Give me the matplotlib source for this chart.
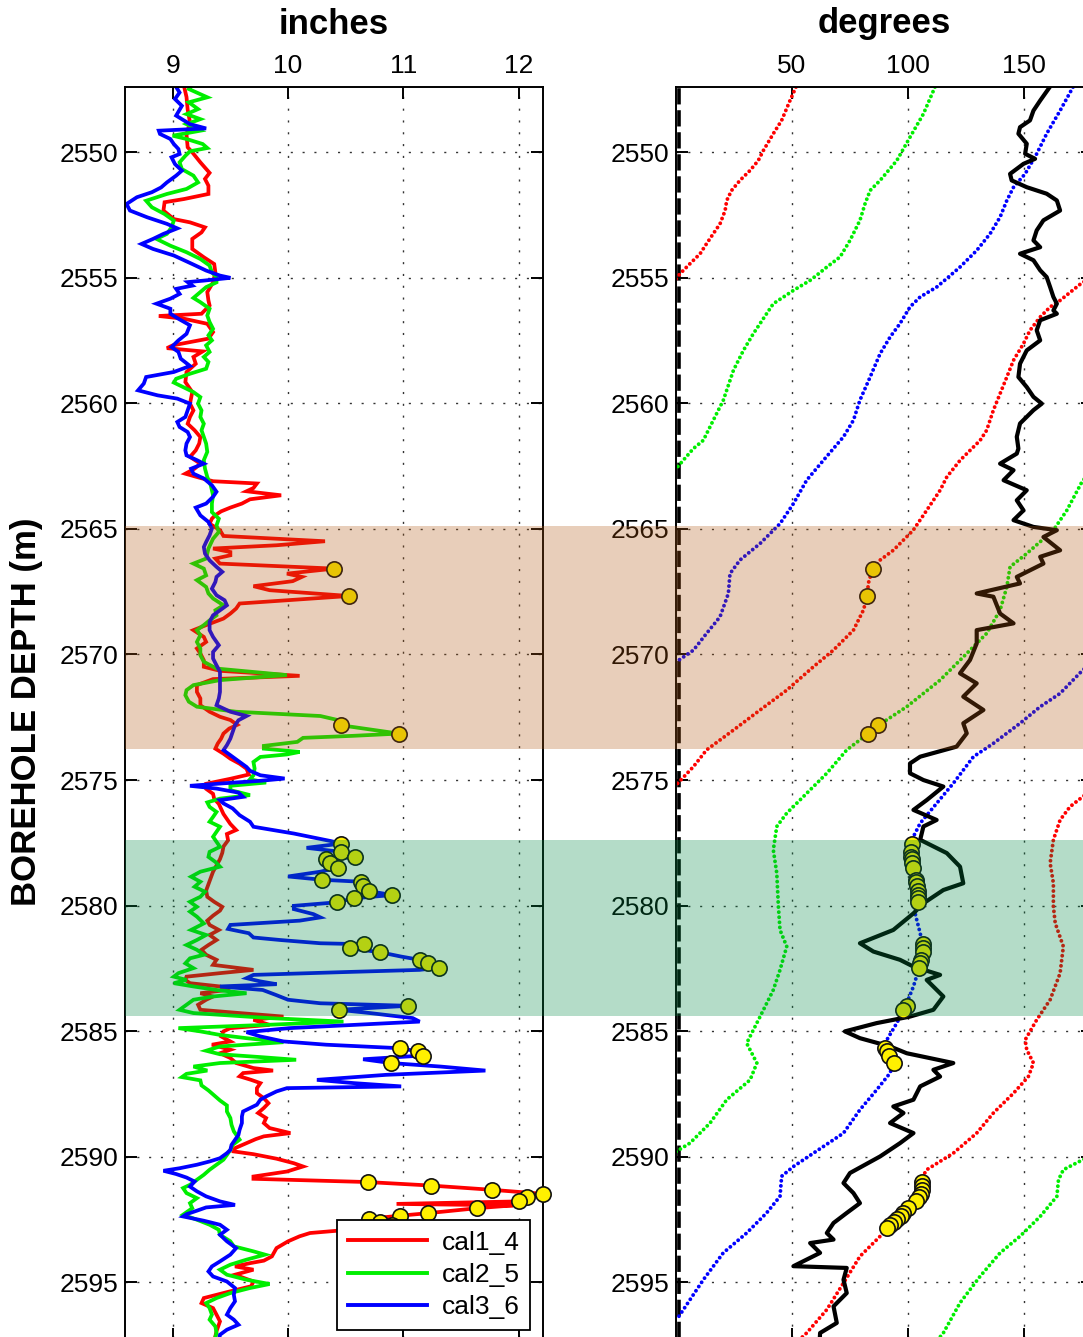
import numpy as np
import matplotlib
matplotlib.use("Agg")
import matplotlib.pyplot as plt
import matplotlib.transforms as mtransforms
from matplotlib.patches import Rectangle
from matplotlib.lines import Line2D

plt.rcParams['font.family'] = ['Liberation Sans', 'DejaVu Sans']

# ---------------- LEFT PANEL: calipers (depth m, inches) ----------------
cal1_4 = [
    (2547.40, 9.10), (2547.80, 9.12), (2548.30, 9.13), (2548.80, 9.15), (2549.30, 9.12), (2549.80, 9.13),
    (2550.00, 9.17), (2550.40, 9.24), (2550.82, 9.32), (2551.06, 9.28), (2551.33, 9.31), (2551.66, 9.31),
    (2551.86, 9.10), (2551.99, 8.93), (2552.32, 8.92), (2552.66, 9.01), (2552.79, 9.15), (2552.99, 9.28),
    (2553.19, 9.25), (2553.45, 9.17), (2553.85, 9.17), (2554.18, 9.27), (2554.45, 9.36), (2554.78, 9.37),
    (2555.18, 9.35), (2555.57, 9.30), (2555.90, 9.31), (2556.10, 9.32), (2556.43, 9.25), (2556.52, 8.88),
    (2556.63, 9.10), (2556.83, 9.30), (2557.16, 9.35), (2557.42, 9.31), (2557.69, 9.00), (2557.80, 8.95),
    (2557.93, 9.26), (2558.15, 9.18), (2558.42, 9.20), (2558.75, 9.12), (2559.15, 9.11), (2559.55, 9.17),
    (2560.01, 9.15), (2560.28, 9.18), (2560.54, 9.15), (2560.81, 9.13), (2561.07, 9.19), (2561.34, 9.24),
    (2561.60, 9.23), (2561.87, 9.20), (2562.13, 9.15), (2562.40, 9.24), (2562.60, 9.19), (2562.80, 9.11),
    (2562.97, 9.24), (2563.10, 9.35), (2563.19, 9.73), (2563.37, 9.70), (2563.50, 9.64), (2563.66, 9.94),
    (2563.82, 9.67), (2563.99, 9.60), (2564.15, 9.50), (2564.30, 9.42), (2564.45, 9.37), (2564.59, 9.34),
    (2564.79, 9.32), (2565.05, 9.41), (2565.28, 9.44), (2565.49, 10.32), (2565.65, 9.90), (2565.78, 9.35),
    (2565.92, 9.50), (2566.05, 9.50), (2566.18, 9.37), (2566.38, 9.41), (2566.58, 10.40), (2566.78, 9.99),
    (2566.91, 10.12), (2567.08, 10.04), (2567.28, 9.70), (2567.44, 9.84), (2567.67, 10.53), (2567.84, 9.99),
    (2567.97, 9.58), (2568.17, 9.55), (2568.37, 9.50), (2568.57, 9.44), (2568.83, 9.29), (2569.03, 9.18),
    (2569.30, 9.27), (2569.50, 9.29), (2569.76, 9.21), (2569.96, 9.24), (2570.23, 9.27), (2570.49, 9.27),
    (2570.65, 9.41), (2570.85, 10.10), (2570.98, 9.35), (2571.22, 9.21), (2571.49, 9.21), (2571.75, 9.24),
    (2572.02, 9.24), (2572.28, 9.32), (2572.48, 9.41), (2572.61, 9.50), (2572.80, 9.56), (2572.95, 9.49),
    (2573.15, 9.44), (2573.35, 9.42), (2573.55, 9.39), (2573.75, 9.37), (2573.95, 9.44), (2574.15, 9.50),
    (2574.35, 9.58), (2574.55, 9.64), (2574.78, 9.66), (2574.95, 9.50), (2575.15, 9.29), (2575.35, 9.29),
    (2575.55, 9.35), (2575.75, 9.36), (2575.95, 9.40), (2576.15, 9.42), (2576.35, 9.44), (2576.55, 9.47),
    (2576.75, 9.50), (2576.99, 9.55), (2577.15, 9.47), (2577.40, 9.48), (2577.65, 9.44), (2577.90, 9.43),
    (2578.15, 9.41), (2578.40, 9.38), (2578.65, 9.35), (2578.90, 9.33), (2579.15, 9.31), (2579.40, 9.29),
    (2579.65, 9.30), (2579.85, 9.36), (2580.05, 9.43), (2580.20, 9.41), (2580.40, 9.35), (2580.60, 9.30),
    (2580.77, 9.32), (2580.97, 9.40), (2581.17, 9.32), (2581.37, 9.38), (2581.57, 9.31), (2581.76, 9.25),
    (2581.96, 9.29), (2582.16, 9.38), (2582.36, 9.35), (2582.56, 9.70), (2582.69, 9.41), (2582.83, 9.12),
    (2582.96, 9.11), (2583.09, 9.15), (2583.22, 9.41), (2583.36, 9.47), (2583.49, 9.24), (2583.62, 9.35),
    (2583.75, 9.29), (2583.95, 9.22), (2584.15, 9.24), (2584.28, 9.58), (2584.42, 9.96), (2584.55, 9.70),
    (2584.75, 9.84), (2584.88, 9.50), (2585.01, 9.44), (2585.21, 9.42), (2585.41, 9.50), (2585.54, 9.34),
    (2585.74, 9.50), (2585.88, 9.41), (2586.07, 9.50), (2586.27, 9.55), (2586.47, 9.70), (2586.57, 9.87),
    (2586.67, 9.61), (2586.80, 9.58), (2586.94, 9.68), (2587.07, 9.76), (2587.27, 9.73), (2587.47, 9.73),
    (2587.67, 9.79), (2587.87, 9.83), (2588.06, 9.79), (2588.26, 9.74), (2588.46, 9.81), (2588.66, 9.79),
    (2588.86, 9.84), (2589.06, 10.02), (2589.19, 9.79), (2589.30, 9.72), (2589.46, 9.64), (2589.66, 9.54),
    (2589.79, 9.53), (2589.90, 9.70), (2590.08, 9.90), (2590.26, 10.05), (2590.39, 10.13), (2590.59, 9.99),
    (2590.79, 9.70), (2590.88, 9.70), (2591.01, 10.69), (2591.15, 11.24), (2591.32, 11.77), (2591.48, 12.21),
    (2591.62, 12.07), (2591.78, 12.00), (2591.88, 10.94), (2591.94, 11.95), (2592.05, 11.64), (2592.25, 11.21),
    (2592.35, 10.97), (2592.47, 10.70), (2592.60, 10.80), (2592.72, 10.90), (2592.84, 10.75), (2592.95, 10.42),
    (2593.04, 10.19), (2593.17, 10.10), (2593.37, 10.00), (2593.64, 9.90), (2593.97, 9.86), (2594.14, 9.79),
    (2594.24, 9.67), (2594.37, 9.54), (2594.50, 9.70), (2594.70, 9.54), (2594.97, 9.70), (2595.16, 9.68),
    (2595.36, 9.50), (2595.63, 9.27), (2595.83, 9.25), (2596.03, 9.35), (2596.29, 9.38), (2596.56, 9.41),
    (2596.95, 9.38), (2597.35, 9.36),
]

cal2_5 = [
    (2547.40, 9.15), (2547.48, 9.14), (2547.81, 9.30), (2548.01, 9.14), (2548.28, 9.22), (2548.48, 9.12),
    (2548.68, 9.24), (2548.88, 9.12), (2549.14, 9.24), (2549.34, 9.00), (2549.47, 9.12), (2549.67, 9.26),
    (2549.83, 9.30), (2549.96, 9.15), (2550.14, 9.11), (2550.40, 9.06), (2550.67, 9.08), (2550.93, 9.18),
    (2551.20, 9.22), (2551.46, 9.12), (2551.66, 8.95), (2551.93, 8.77), (2552.19, 8.82), (2552.46, 8.93),
    (2552.72, 9.01), (2552.99, 8.99), (2553.25, 8.95), (2553.45, 8.86), (2553.72, 8.98), (2553.98, 9.12),
    (2554.25, 9.24), (2554.51, 9.32), (2554.78, 9.34), (2554.98, 9.38), (2555.18, 9.38), (2555.37, 9.29),
    (2555.64, 9.22), (2555.80, 9.18), (2555.97, 9.24), (2556.23, 9.32), (2556.50, 9.30), (2556.76, 9.32),
    (2557.03, 9.35), (2557.29, 9.31), (2557.49, 9.34), (2557.69, 9.29), (2557.95, 9.32), (2558.15, 9.27),
    (2558.35, 9.31), (2558.62, 9.29), (2558.82, 9.15), (2559.02, 9.03), (2559.17, 9.01), (2559.35, 9.09),
    (2559.55, 9.18), (2559.75, 9.24), (2560.01, 9.22), (2560.28, 9.25), (2560.54, 9.24), (2560.81, 9.27),
    (2561.07, 9.25), (2561.34, 9.27), (2561.60, 9.29), (2561.93, 9.30), (2562.26, 9.27), (2562.60, 9.28),
    (2562.93, 9.30), (2563.26, 9.33), (2563.66, 9.35), (2563.99, 9.34), (2564.33, 9.34), (2564.59, 9.40),
    (2564.86, 9.38), (2565.12, 9.40), (2565.39, 9.35), (2565.78, 9.31), (2566.18, 9.29), (2566.38, 9.18),
    (2566.58, 9.27), (2566.85, 9.29), (2567.04, 9.21), (2567.31, 9.29), (2567.57, 9.31), (2567.77, 9.35),
    (2568.04, 9.44), (2568.24, 9.37), (2568.44, 9.38), (2568.64, 9.32), (2568.83, 9.27), (2569.03, 9.21),
    (2569.23, 9.24), (2569.50, 9.21), (2569.76, 9.24), (2570.03, 9.24), (2570.29, 9.27), (2570.56, 9.38),
    (2570.82, 9.99), (2571.02, 9.41), (2571.22, 9.18), (2571.42, 9.12), (2571.62, 9.11), (2571.88, 9.14),
    (2572.08, 9.21), (2572.28, 9.55), (2572.45, 10.28), (2572.62, 10.44), (2572.82, 10.46), (2573.15, 10.96),
    (2573.24, 10.56), (2573.32, 10.13), (2573.48, 10.08), (2573.64, 9.79), (2573.75, 9.79), (2573.88, 10.10),
    (2573.98, 9.99), (2574.08, 9.76), (2574.28, 9.70), (2574.54, 9.71), (2574.81, 9.70), (2574.97, 9.67),
    (2575.10, 9.81), (2575.23, 9.50), (2575.40, 9.50), (2575.60, 9.67), (2575.74, 9.41), (2575.89, 9.30),
    (2576.07, 9.32), (2576.27, 9.38), (2576.47, 9.35), (2576.66, 9.32), (2576.86, 9.41), (2577.06, 9.38),
    (2577.26, 9.35), (2577.46, 9.38), (2577.66, 9.41), (2577.86, 9.32), (2578.06, 9.31), (2578.26, 9.37),
    (2578.45, 9.41), (2578.65, 9.24), (2578.85, 9.16), (2579.05, 9.24), (2579.25, 9.19), (2579.45, 9.28),
    (2579.65, 9.24), (2579.85, 9.15), (2580.05, 9.21), (2580.24, 9.15), (2580.44, 9.21), (2580.71, 9.27),
    (2580.97, 9.16), (2581.17, 9.29), (2581.37, 9.21), (2581.57, 9.12), (2581.76, 9.21), (2581.96, 9.27),
    (2582.10, 9.15), (2582.30, 9.11), (2582.49, 9.18), (2582.69, 9.05), (2582.83, 9.01), (2582.96, 9.12),
    (2583.09, 9.01), (2583.22, 9.18), (2583.36, 9.38), (2583.49, 9.64), (2583.62, 9.35), (2583.75, 9.18),
    (2583.95, 9.12), (2584.15, 9.06), (2584.28, 9.18), (2584.48, 9.84), (2584.62, 10.48), (2584.75, 9.81),
    (2584.88, 9.05), (2585.01, 9.24), (2585.15, 9.41), (2585.28, 9.64), (2585.44, 9.96), (2585.61, 9.41),
    (2585.78, 9.29), (2585.92, 9.41), (2586.04, 9.78), (2586.14, 10.07), (2586.27, 9.41), (2586.41, 9.18),
    (2586.57, 9.30), (2586.70, 9.12), (2586.83, 9.08), (2586.96, 9.24), (2587.16, 9.25), (2587.36, 9.31),
    (2587.56, 9.36), (2587.76, 9.41), (2587.96, 9.47), (2588.20, 9.47), (2588.46, 9.50), (2588.73, 9.51),
    (2588.99, 9.53), (2589.32, 9.58), (2589.53, 9.52), (2589.73, 9.50), (2589.93, 9.47), (2590.12, 9.44),
    (2590.32, 9.38), (2590.52, 9.32), (2590.72, 9.27), (2590.92, 9.21), (2591.12, 9.15), (2591.25, 9.09),
    (2591.45, 9.12), (2591.65, 9.21), (2591.85, 9.15), (2592.05, 9.17), (2592.31, 9.09), (2592.51, 9.21),
    (2592.71, 9.32), (2592.91, 9.40), (2593.11, 9.41), (2593.37, 9.50), (2593.57, 9.53), (2593.77, 9.70),
    (2593.90, 9.80), (2594.10, 9.64), (2594.30, 9.50), (2594.50, 9.41), (2594.70, 9.47), (2594.90, 9.64),
    (2595.07, 9.84), (2595.23, 9.67), (2595.43, 9.50), (2595.63, 9.38), (2595.83, 9.29), (2596.03, 9.32),
    (2596.29, 9.34), (2596.49, 9.32), (2596.76, 9.37), (2597.02, 9.38), (2597.35, 9.36),
]

cal3_6 = [
    (2547.40, 9.03), (2547.62, 9.06), (2547.88, 9.02), (2548.15, 9.08), (2548.54, 9.03), (2548.68, 9.08),
    (2548.88, 9.15), (2549.05, 9.29), (2549.14, 8.88), (2549.27, 8.89), (2549.47, 8.98), (2549.67, 9.01),
    (2549.87, 9.05), (2550.07, 9.06), (2550.20, 8.99), (2550.47, 9.02), (2550.73, 9.08), (2550.93, 9.03),
    (2551.20, 8.95), (2551.40, 8.90), (2551.59, 8.82), (2551.79, 8.69), (2552.06, 8.60), (2552.32, 8.63),
    (2552.59, 8.78), (2552.85, 8.95), (2553.03, 9.04), (2553.25, 8.92), (2553.45, 8.83), (2553.65, 8.73),
    (2553.85, 8.83), (2554.11, 9.01), (2554.45, 9.17), (2554.71, 9.29), (2554.91, 9.41), (2555.00, 9.50),
    (2555.11, 9.27), (2555.17, 9.13), (2555.31, 9.17), (2555.44, 9.03), (2555.64, 9.06), (2555.83, 8.98),
    (2556.03, 8.86), (2556.23, 8.98), (2556.43, 8.98), (2556.63, 9.05), (2556.89, 9.15), (2557.23, 9.12),
    (2557.49, 9.05), (2557.76, 8.99), (2557.95, 9.05), (2558.22, 9.07), (2558.51, 9.15), (2558.75, 9.01),
    (2558.95, 8.77), (2559.21, 8.75), (2559.48, 8.70), (2559.68, 8.87), (2559.81, 9.04), (2560.01, 9.15),
    (2560.28, 9.13), (2560.54, 9.11), (2560.74, 9.04), (2560.94, 9.06), (2561.14, 9.13), (2561.34, 9.15),
    (2561.60, 9.12), (2561.87, 9.11), (2562.07, 9.12), (2562.26, 9.21), (2562.40, 9.27), (2562.60, 9.16),
    (2562.80, 9.18), (2562.99, 9.27), (2563.26, 9.34), (2563.52, 9.38), (2563.72, 9.35), (2563.99, 9.29),
    (2564.15, 9.20), (2564.46, 9.24), (2564.72, 9.31), (2564.99, 9.34), (2565.25, 9.32), (2565.52, 9.29),
    (2565.72, 9.27), (2565.98, 9.28), (2566.25, 9.32), (2566.51, 9.38), (2566.71, 9.43), (2566.91, 9.38),
    (2567.11, 9.37), (2567.38, 9.34), (2567.64, 9.38), (2567.84, 9.45), (2568.04, 9.47), (2568.24, 9.41),
    (2568.44, 9.35), (2568.70, 9.32), (2569.03, 9.32), (2569.30, 9.35), (2569.63, 9.40), (2569.90, 9.35),
    (2570.16, 9.35), (2570.43, 9.38), (2570.69, 9.41), (2571.09, 9.41), (2571.49, 9.41), (2571.75, 9.40),
    (2572.02, 9.38), (2572.28, 9.50), (2572.45, 9.64), (2572.62, 9.57), (2572.82, 9.54), (2573.08, 9.52),
    (2573.35, 9.50), (2573.61, 9.47), (2573.81, 9.44), (2574.01, 9.50), (2574.28, 9.58), (2574.48, 9.64),
    (2574.63, 9.67), (2574.81, 9.76), (2574.94, 9.97), (2575.03, 9.76), (2575.14, 9.41), (2575.23, 9.15),
    (2575.34, 9.38), (2575.50, 9.57), (2575.67, 9.61), (2575.80, 9.41), (2575.93, 9.44), (2576.13, 9.52),
    (2576.40, 9.58), (2576.66, 9.67), (2576.86, 9.70), (2576.99, 9.87), (2577.13, 10.05), (2577.29, 10.22),
    (2577.43, 10.37), (2577.53, 10.46), (2577.70, 10.16), (2577.86, 10.46), (2578.06, 10.58), (2578.16, 10.33),
    (2578.32, 10.36), (2578.49, 10.43), (2578.65, 10.28), (2578.84, 10.00), (2578.97, 10.29), (2579.05, 10.63),
    (2579.21, 10.65), (2579.42, 10.70), (2579.58, 10.90), (2579.71, 10.57), (2579.87, 10.42), (2580.01, 10.05),
    (2580.14, 10.05), (2580.34, 10.22), (2580.47, 10.28), (2580.60, 10.10), (2580.77, 9.50), (2580.93, 9.48),
    (2581.10, 9.66), (2581.27, 9.70), (2581.37, 9.93), (2581.50, 10.28), (2581.54, 10.66), (2581.70, 10.54),
    (2581.86, 10.80), (2582.03, 10.98), (2582.16, 11.14), (2582.30, 11.21), (2582.47, 11.31), (2582.56, 11.14),
    (2582.65, 10.47), (2582.76, 9.70), (2582.89, 9.64), (2583.02, 9.76), (2583.13, 9.90), (2583.22, 9.41),
    (2583.36, 9.78), (2583.55, 9.89), (2583.75, 10.00), (2583.89, 10.28), (2583.99, 11.04), (2584.15, 10.44),
    (2584.28, 10.71), (2584.48, 11.08), (2584.62, 11.14), (2584.75, 10.57), (2584.88, 10.01), (2585.04, 9.64),
    (2585.21, 9.76), (2585.41, 9.96), (2585.54, 10.33), (2585.68, 10.97), (2585.81, 11.13), (2585.97, 11.17),
    (2586.12, 10.65), (2586.27, 10.89), (2586.41, 11.32), (2586.57, 11.71), (2586.74, 10.85), (2586.94, 10.25),
    (2587.07, 10.57), (2587.20, 10.98), (2587.27, 9.99), (2587.40, 9.90), (2587.60, 9.81), (2587.73, 9.76),
    (2587.93, 9.73), (2588.20, 9.61), (2588.40, 9.60), (2588.66, 9.60), (2588.93, 9.58), (2589.13, 9.57),
    (2589.33, 9.54), (2589.53, 9.51), (2589.73, 9.50), (2589.86, 9.47), (2590.06, 9.41), (2590.19, 9.32),
    (2590.32, 9.21), (2590.46, 9.06), (2590.56, 8.92), (2590.69, 9.03), (2590.83, 9.12), (2590.99, 9.19),
    (2591.19, 9.15), (2591.38, 9.21), (2591.58, 9.29), (2591.78, 9.41), (2591.92, 9.54), (2592.02, 9.29),
    (2592.15, 9.21), (2592.29, 9.12), (2592.38, 9.09), (2592.55, 9.27), (2592.71, 9.41), (2592.91, 9.47),
    (2593.11, 9.41), (2593.37, 9.47), (2593.64, 9.55), (2593.90, 9.50), (2594.17, 9.41), (2594.37, 9.34),
    (2594.57, 9.31), (2594.77, 9.35), (2594.97, 9.47), (2595.23, 9.54), (2595.50, 9.53), (2595.76, 9.54),
    (2596.03, 9.50), (2596.29, 9.47), (2596.49, 9.53), (2596.69, 9.57), (2596.89, 9.47), (2597.09, 9.41),
    (2597.35, 9.40),
]

# flagged points (depth m) with caliper value (in) and azimuth (deg)
red_flag_depth = [2566.58, 2567.67, 2591.01, 2591.15, 2591.32, 2591.48, 2591.62, 2591.78,
                  2592.05, 2592.25, 2592.35, 2592.47, 2592.60, 2592.72, 2592.84]
red_flag_in = [10.40, 10.53, 10.69, 11.24, 11.77, 12.21, 12.07, 12.00,
               11.64, 11.21, 10.97, 10.70, 10.80, 10.90, 10.75]
red_flag_az = [84.9, 82.6, 106.0, 106.2, 106.0, 105.6, 105.0, 103.5,
               100.0, 98.0, 97.0, 95.5, 94.0, 92.5, 91.0]

green_flag_depth = [2572.82, 2573.15]
green_flag_in = [10.46, 10.96]
green_flag_az = [87.4, 83.0]

blue_flag_depth = [2577.53, 2577.86, 2578.06, 2578.16, 2578.32, 2578.49, 2578.97, 2579.05, 2579.21,
                   2579.42, 2579.58, 2579.71, 2579.87, 2581.54, 2581.70, 2581.86, 2582.16, 2582.30,
                   2582.47, 2583.99, 2584.15, 2585.68, 2585.81, 2585.97, 2586.27]
blue_flag_in = [10.46, 10.46, 10.58, 10.33, 10.36, 10.43, 10.29, 10.63, 10.65,
                10.70, 10.90, 10.57, 10.42, 10.66, 10.54, 10.80, 11.14, 11.21,
                11.31, 11.04, 10.44, 10.97, 11.13, 11.17, 10.89]
blue_flag_az = [101.8, 101.5, 101.5, 101.8, 102.0, 102.5, 103.5, 103.8, 104.0,
                104.4, 104.5, 104.6, 104.3, 106.5, 106.8, 106.5, 105.8, 105.4,
                105.0, 99.5, 98.0, 90.2, 91.0, 92.0, 94.0]

# ---------------- RIGHT PANEL: azimuths (depth m, degrees), wrapped 0-180 ----------------
az_red_segments = [
    [(2547.40, 51.8), (2547.94, 49.2), (2548.73, 45.6), (2549.26, 42.0), (2549.93, 37.7), (2550.33, 35.5),
     (2550.72, 32.0), (2551.12, 27.6), (2551.52, 24.0), (2551.92, 21.9), (2552.32, 21.2), (2552.85, 19.0),
     (2553.24, 16.1), (2553.64, 13.2), (2554.04, 10.4), (2554.44, 6.0), (2554.84, 1.7), (2555.05, 0.0)],
    [(2555.05, 180.0), (2555.17, 175.6), (2555.90, 165.8), (2556.16, 161.5), (2556.56, 157.2), (2557.09, 152.8),
     (2557.62, 150.0), (2558.28, 145.7), (2558.95, 142.8), (2559.61, 139.9), (2560.27, 137.0), (2561.07, 134.1),
     (2561.47, 131.3), (2562.27, 122.6), (2562.93, 116.9), (2563.46, 114.0), (2564.26, 108.2), (2565.05, 102.4),
     (2565.85, 93.8), (2566.24, 88.1), (2566.58, 84.9), (2567.17, 83.0), (2567.67, 82.6), (2568.23, 80.9),
     (2569.03, 76.6), (2569.83, 67.9), (2570.49, 59.3), (2571.42, 47.8), (2572.21, 36.3), (2573.01, 24.8),
     (2573.80, 13.2), (2574.47, 7.5), (2575.20, 0.0)],
    [(2575.35, 180.0), (2575.66, 175.6), (2576.06, 170.1), (2576.59, 165.8), (2577.38, 162.9), (2578.31, 161.5),
     (2579.11, 162.9), (2580.04, 162.9), (2580.70, 163.7), (2581.63, 167.2), (2582.69, 165.8), (2583.75, 161.5),
     (2584.55, 155.7), (2585.35, 150.7), (2585.74, 151.4), (2586.27, 154.3), (2586.81, 152.1), (2587.47, 145.7),
     (2588.26, 137.0), (2589.06, 129.8), (2589.86, 119.7), (2590.52, 108.2), (2590.85, 106.1), (2591.32, 106.0),
     (2591.62, 105.0), (2591.78, 103.5), (2592.05, 100.0), (2592.47, 95.5), (2592.84, 91.0), (2593.17, 88.1),
     (2593.97, 79.4), (2595.03, 72.3), (2596.09, 65.1), (2597.02, 56.4), (2597.40, 52.0)],
]

az_green_segments = [
    [(2547.40, 111.8), (2548.47, 106.8), (2549.40, 101.0), (2550.33, 95.3), (2551.12, 88.1), (2551.52, 83.8),
     (2552.05, 81.6), (2552.71, 79.4), (2553.51, 75.1), (2554.17, 70.8), (2554.57, 65.1), (2554.84, 61.5),
     (2555.10, 57.9), (2555.50, 50.7), (2556.03, 42.0), (2556.43, 39.1), (2557.22, 33.4), (2557.89, 29.1),
     (2558.68, 24.8), (2559.88, 20.4), (2560.67, 16.1), (2561.47, 11.8), (2561.80, 7.5), (2562.60, 0.0)],
    [(2562.75, 180.0), (2563.06, 175.6), (2564.26, 168.7), (2565.05, 162.9), (2565.98, 151.4), (2566.51, 144.2),
     (2567.31, 142.8), (2568.23, 139.9), (2569.16, 134.1), (2569.96, 125.5), (2571.02, 114.0), (2572.08, 99.6),
     (2572.82, 87.4), (2573.15, 83.0), (2573.80, 73.7), (2574.73, 65.1), (2575.53, 56.4), (2576.32, 47.8),
     (2576.85, 43.5), (2577.78, 42.0), (2578.71, 43.5), (2580.04, 44.2), (2580.97, 44.9), (2581.63, 47.8),
     (2582.56, 44.9), (2583.36, 42.0), (2584.42, 36.3), (2585.48, 30.5), (2586.27, 34.9), (2586.94, 32.0),
     (2587.73, 21.9), (2588.66, 14.7), (2589.46, 6.0), (2589.80, 0.0)],
    [(2589.95, 180.0), (2590.12, 175.6), (2590.52, 167.2), (2590.92, 165.1), (2591.58, 164.4), (2592.38, 157.2),
     (2593.17, 148.5), (2593.83, 139.9), (2594.76, 131.3), (2595.82, 122.6), (2597.02, 115.4), (2597.40, 112.0)],
]

az_blue_segments = [
    [(2547.40, 171.4), (2548.34, 165.8), (2549.26, 160.0), (2550.06, 155.7), (2550.86, 150.7), (2551.39, 145.7),
     (2551.92, 142.8), (2552.58, 139.9), (2553.24, 135.6), (2553.91, 129.8), (2554.57, 122.6), (2554.97, 117.6),
     (2555.37, 112.5), (2555.76, 105.4), (2556.16, 101.0), (2556.82, 96.7), (2557.36, 92.4), (2558.02, 88.1),
     (2558.95, 83.8), (2559.87, 79.4), (2560.67, 76.6), (2561.33, 72.3), (2562.27, 63.6), (2563.06, 56.4),
     (2563.99, 50.7), (2564.79, 44.9), (2565.58, 36.3), (2566.24, 27.6), (2566.78, 23.3), (2567.57, 22.6),
     (2568.50, 19.0), (2569.16, 13.2), (2569.83, 7.5), (2570.30, 0.0)],
    [(2570.30, 180.0), (2570.62, 175.6), (2571.55, 165.8), (2572.08, 157.2), (2572.74, 148.5), (2573.54, 137.0),
     (2574.07, 128.4), (2575.13, 119.7), (2575.93, 112.5), (2576.72, 105.4), (2577.25, 102.5), (2577.53, 101.8),
     (2578.06, 101.5), (2578.49, 102.5), (2579.05, 103.8), (2579.58, 104.5), (2579.87, 104.3), (2580.31, 103.2),
     (2581.10, 105.4), (2581.70, 106.8), (2582.16, 105.8), (2582.47, 105.0), (2583.22, 102.5), (2584.02, 99.0),
     (2584.68, 95.3), (2585.35, 91.0), (2585.68, 90.2), (2586.27, 93.8), (2586.67, 92.4), (2587.34, 86.6),
     (2588.13, 79.4), (2589.06, 72.3), (2589.86, 59.3), (2590.39, 50.7), (2590.78, 45.6), (2591.58, 44.9),
     (2592.24, 39.1), (2593.04, 30.5), (2593.83, 20.4), (2594.90, 11.8), (2596.49, 0.3)],
]

az_black_depth = [
    2547.38, 2547.94, 2548.34, 2548.73, 2549.00, 2549.26, 2549.66, 2550.06, 2550.26, 2550.46, 2550.86, 2551.12,
    2551.39, 2551.65, 2551.92, 2552.32, 2552.71, 2553.11, 2553.51, 2553.78, 2554.04, 2554.30, 2554.70, 2554.97,
    2555.37, 2555.76, 2556.03, 2556.30, 2556.43, 2556.69, 2557.09, 2557.49, 2557.89, 2558.42, 2558.95, 2559.35,
    2559.74, 2560.01, 2560.27, 2560.80, 2561.33, 2561.80, 2562.00, 2562.40, 2562.66, 2563.06, 2563.46, 2563.86,
    2564.26, 2564.65, 2564.92, 2565.05, 2565.32, 2565.85, 2566.11, 2566.38, 2566.91, 2567.17, 2567.57, 2567.70,
    2568.37, 2568.76, 2569.03, 2569.56, 2570.22, 2570.75, 2571.15, 2571.68, 2572.21, 2572.74, 2573.14, 2573.67,
    2574.07, 2574.34, 2574.73, 2575.00, 2575.26, 2575.80, 2576.19, 2576.59, 2576.85, 2577.38, 2577.91, 2578.45,
    2579.11, 2579.38, 2579.91, 2580.31, 2580.97, 2581.50, 2581.83, 2582.16, 2582.43, 2582.76, 2582.96, 2583.62,
    2584.15, 2584.42, 2584.68, 2585.01, 2585.28, 2585.61, 2585.88, 2586.27, 2586.54, 2586.81, 2587.20, 2587.73,
    2588.00, 2588.26, 2588.66, 2589.06, 2589.46, 2589.99, 2590.65, 2591.05, 2591.45, 2591.85, 2592.24, 2592.64,
    2593.04, 2593.30, 2593.44, 2593.83, 2594.36, 2594.43, 2594.90, 2595.43, 2595.96, 2596.62, 2597.02, 2597.35]
az_black_deg = [
    161.5, 157.2, 154.3, 152.8, 148.5, 147.8, 151.4, 150.7, 155.0, 150.0, 144.2, 144.9,
    151.4, 160.0, 164.4, 165.8, 158.6, 155.7, 154.3, 157.2, 148.5, 154.3, 157.2, 160.0,
    161.5, 162.9, 164.4, 162.9, 164.4, 157.2, 155.7, 157.2, 151.4, 148.5, 147.8, 151.4,
    154.3, 157.9, 154.3, 148.5, 147.1, 147.8, 147.1, 139.9, 145.7, 141.4, 151.4, 147.1,
    150.0, 145.7, 154.3, 164.4, 158.6, 165.8, 157.2, 158.6, 147.1, 148.5, 129.8, 137.0,
    139.9, 145.7, 129.8, 129.8, 126.9, 122.6, 129.8, 124.0, 132.7, 124.0, 125.5, 121.1,
    105.4, 101.0, 101.0, 106.8, 115.4, 108.2, 102.5, 112.5, 106.8, 105.4, 116.9, 122.6,
    124.0, 115.4, 106.8, 102.5, 93.8, 79.4, 85.2, 96.7, 102.5, 114.0, 108.2, 115.4,
    111.1, 101.0, 86.6, 72.9, 79.4, 92.4, 99.6, 119.7, 111.1, 114.0, 105.4, 102.5,
    93.8, 98.2, 92.4, 102.5, 96.7, 88.1, 75.1, 72.3, 76.6, 79.4, 73.7, 68.0,
    65.1, 68.0, 57.9, 62.2, 50.7, 73.7, 72.3, 73.7, 68.0, 69.4, 62.2, 62.0]

# shaded intervals (depth m)
zone_tan = (2564.87, 2573.75)
zone_green = (2577.39, 2584.38)

series_labels = ['cal1_4', 'cal2_5', 'cal3_6']
series_colors = ['#FF0000', '#00EE00', '#0000FF']
depth_ticks = [2550, 2555, 2560, 2565, 2570, 2575, 2580, 2585, 2590, 2595]
inch_ticks = [9, 10, 11, 12]
deg_ticks = [50, 100, 150]

# ---------------- FIGURE ----------------
W, H = 1083, 1337
fig = plt.figure(figsize=(W / 100, H / 100), dpi=100)
ax_top, ax_bot = 87, 1340
ax1 = fig.add_axes([125 / W, 1 - ax_bot / H, 418 / W, (ax_bot - ax_top) / H])
ax2 = fig.add_axes([676 / W, 1 - ax_bot / H, 417 / W, (ax_bot - ax_top) / H])

ylim = (2597.30, 2547.40)
FS = 19

for ax in (ax1, ax2):
    ax.set_ylim(*ylim)
    ax.set_yticks(depth_ticks)
    ax.set_axisbelow(True)
    ax.grid(True, color='#333333', linestyle=(0, (1.5, 7)), linewidth=1.0)
    ax.tick_params(direction='in', length=8.5, width=1.4, top=True, bottom=True, left=True, right=True,
                   labeltop=True, labelbottom=False, labelsize=FS)
    ax.tick_params(axis='x', pad=6.5)
    ax.tick_params(axis='y', pad=5)
    for s in ax.spines.values():
        s.set_linewidth(1.4)

ax1.set_xlim(8.587, 12.209)
ax1.set_xticks(inch_ticks)
ax2.set_xlim(0, 180)
ax2.set_xticks(deg_ticks)

# left panel curves
for data, col in zip([cal1_4, cal2_5, cal3_6], series_colors):
    d = [p[0] for p in data]
    v = [p[1] for p in data]
    ax1.plot(v, d, color=col, lw=2.7, solid_joinstyle='miter', zorder=2)

mk = dict(marker='o', ls='none', ms=11, mfc='#FFF000', mec='#111111', mew=1.2, zorder=3, clip_on=False)
ax1.plot(red_flag_in, red_flag_depth, **mk)
ax1.plot(green_flag_in, green_flag_depth, **mk)
ax1.plot(blue_flag_in, blue_flag_depth, **mk)

handles = [Line2D([], [], color=c, lw=2.8) for c in series_colors]
leg = ax1.legend(handles, series_labels, loc='lower right', bbox_to_anchor=(0.969, 0.008),
                 fontsize=FS, frameon=True, fancybox=False, framealpha=1, edgecolor='k',
                 handlelength=3.0, handletextpad=0.55, borderpad=0.4, labelspacing=0.32,
                 borderaxespad=0)
leg.get_frame().set_linewidth(1.3)
leg.set_zorder(6)

# right panel
ax2.axvline(1.3, color='k', lw=2.6, dashes=(4.5, 1.6), zorder=2)
dot = dict(lw=2.8, ls=(0, (0.01, 1.3)), dash_capstyle='round', zorder=2)
for segs, col in zip([az_red_segments, az_green_segments, az_blue_segments], series_colors):
    for seg in segs:
        ax2.plot([p[1] for p in seg], [p[0] for p in seg], color=col, **dot)
ax2.plot(az_black_deg, az_black_depth, color='k', lw=3.0, zorder=2.5)
ax2.plot(red_flag_az, red_flag_depth, **mk)
ax2.plot(green_flag_az, green_flag_depth, **mk)
ax2.plot(blue_flag_az, blue_flag_depth, **mk)

# shaded zones drawn over everything (semi-transparent), spanning both tracks
trans = mtransforms.blended_transform_factory(fig.transFigure, ax1.transData)
x0 = 125 / W
for (top, bot), col, a in [(zone_tan, '#AF5711', 0.286), (zone_green, '#008844', 0.294)]:
    fig.add_artist(Rectangle((x0, top), 1.02 - x0, bot - top, transform=trans,
                             facecolor=col, edgecolor='none', alpha=a, zorder=10))

fig.text(334 / W, 1 - 24 / H, 'inches', ha='center', va='center', fontsize=25, fontweight='bold')
fig.text(884 / W, 1 - 24 / H, 'degrees', ha='center', va='center', fontsize=25, fontweight='bold')
fig.text(27 / W, 1 - 712 / H, 'BOREHOLE DEPTH (m)', ha='center', va='center', rotation=90,
         fontsize=25, fontweight='bold')

fig.savefig('out.png', dpi=100)
